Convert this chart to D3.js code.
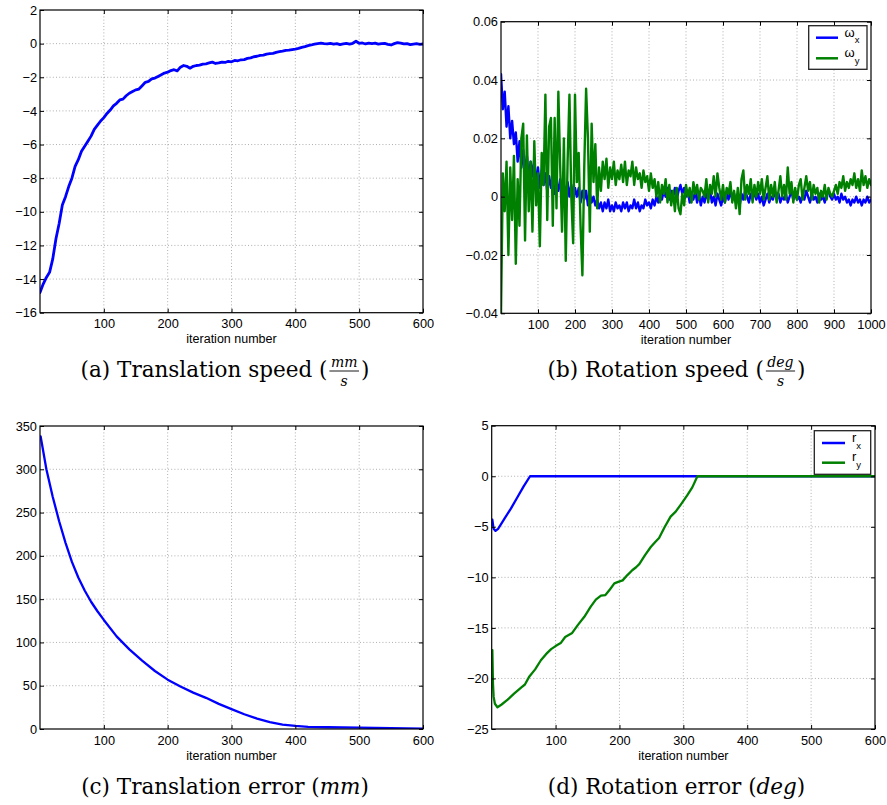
<!DOCTYPE html>
<html><head><meta charset="utf-8">
<script src="https://cdn.jsdelivr.net/npm/d3@7"></script>
<style>body{margin:0;background:#fff}</style>
</head><body>
<svg id="fig" width="887" height="805" xmlns="http://www.w3.org/2000/svg"></svg>
<script>
// ---------------- DATA ----------------
// (a) translation speed, every 5 iterations
const iterA = d3.range(0, 601, 5);
const speedA = [
 -14.8,-14.3,-13.9,-13.6,-12.8,-11.6,-10.7,-9.6,-9.1,-8.5,
 -8.0,-7.3,-6.9,-6.4,-6.1,-5.8,-5.5,-5.1,-4.85,-4.6,
 -4.4,-4.15,-3.95,-3.7,-3.55,-3.35,-3.3,-3.1,-2.95,-2.85,
 -2.75,-2.7,-2.5,-2.3,-2.25,-2.1,-2.05,-1.95,-1.85,-1.75,
 -1.7,-1.6,-1.55,-1.62,-1.4,-1.3,-1.35,-1.46,-1.35,-1.3,
 -1.28,-1.22,-1.2,-1.15,-1.1,-1.18,-1.15,-1.1,-1.12,-1.05,
 -1.08,-1.0,-1.02,-0.96,-0.95,-0.88,-0.85,-0.78,-0.75,-0.7,
 -0.68,-0.62,-0.6,-0.58,-0.52,-0.48,-0.45,-0.4,-0.38,-0.35,
 -0.32,-0.28,-0.22,-0.18,-0.12,-0.08,-0.03,0.0,0.03,0.0,
 -0.02,0.02,-0.03,0.0,-0.06,-0.02,0.02,-0.03,0.02,0.14,
 0.02,0.04,-0.02,0.03,0.0,0.03,-0.03,0.0,0.02,-0.04,
 -0.08,0.0,0.06,0.03,-0.02,0.0,-0.06,-0.03,0.0,-0.04,-0.02
];
// (b) rotation speed, every 5 iterations
const iterB = d3.range(0, 1001, 5);
const omegaX = [
 0.042,0.030,0.036,0.024,0.031,0.020,0.026,0.018,0.022,0.012,
 0.019,0.010,0.016,0.008,0.014,0.006,0.012,0.007,0.013,0.004,
 0.010,0.003,0.009,0.004,0.008,0.002,0.007,0.003,0.006,0.001,
 0.005,0.002,0.006,-0.001,0.004,0.001,0.005,0.000,0.004,-0.001,
 0.003,0.000,0.003,-0.002,0.002,-0.001,0.002,-0.003,0.001,-0.002,
 0.000,-0.003,-0.001,-0.004,-0.002,-0.005,-0.002,-0.004,-0.001,-0.005,
 -0.003,-0.005,-0.002,-0.004,-0.003,-0.005,-0.002,-0.004,-0.002,-0.005,
 -0.003,-0.004,-0.001,-0.004,-0.002,-0.005,-0.003,-0.004,-0.001,-0.003,
 -0.002,-0.004,-0.001,-0.003,0.000,-0.002,0.001,-0.001,0.002,0.000,
 0.003,-0.001,0.002,0.000,0.003,-0.001,0.002,0.004,0.001,0.003,
 0.000,0.002,-0.002,0.001,-0.001,0.002,-0.002,0.001,-0.003,0.000,
 -0.002,0.001,-0.001,0.002,-0.002,0.000,-0.003,0.001,-0.001,-0.003,
 0.000,-0.002,0.001,-0.001,0.002,-0.001,0.001,-0.002,0.000,-0.003,
 0.001,-0.001,0.002,0.000,-0.002,0.001,-0.001,0.002,-0.001,0.001,
 -0.002,0.000,-0.003,-0.001,0.001,-0.002,0.000,-0.001,0.002,-0.001,
 0.001,-0.002,0.000,-0.001,0.001,-0.002,0.000,0.002,-0.001,0.001,
 -0.001,0.000,-0.002,0.001,-0.001,0.002,0.000,-0.002,0.001,-0.001,
 0.000,-0.002,0.001,-0.001,0.000,-0.002,0.001,0.002,0.000,-0.001,
 0.001,-0.001,0.000,-0.002,0.001,-0.001,0.000,-0.002,-0.001,-0.003,
 -0.001,-0.002,0.000,-0.002,-0.001,-0.003,-0.001,-0.002,0.000,-0.002,
 -0.001
];
const omegaY = [
 -0.040,0.008,-0.005,0.012,-0.020,0.010,-0.008,0.014,-0.023,0.006,
 -0.010,0.020,0.025,-0.015,0.021,-0.005,0.012,-0.012,0.019,-0.003,
 0.008,-0.017,0.015,0.004,0.035,-0.008,0.024,0.027,-0.010,0.027,
 -0.004,0.036,0.010,-0.012,0.020,-0.022,0.012,0.035,0.000,-0.016,
 0.035,0.005,0.015,-0.010,-0.027,0.010,0.037,0.020,-0.012,0.025,
 0.005,0.018,-0.004,0.010,0.002,0.012,0.006,0.013,0.003,0.010,
 0.006,0.012,0.004,0.009,0.006,0.011,0.005,0.012,0.004,0.009,
 0.007,0.012,0.004,0.010,0.006,0.008,0.003,0.009,0.005,0.007,
 0.002,0.008,0.003,0.006,0.000,0.005,-0.002,0.004,0.001,0.006,
 -0.002,0.004,-0.003,0.002,-0.005,0.003,-0.004,-0.006,0.001,-0.003,
 0.004,0.000,0.003,-0.002,0.005,0.001,0.004,-0.001,0.003,0.002,
 0.000,0.006,-0.002,0.004,0.001,0.007,0.000,0.008,0.003,-0.001,
 0.004,-0.002,0.003,0.001,0.005,-0.002,0.002,-0.004,0.003,-0.006,
 0.006,0.009,-0.001,0.004,0.001,0.006,-0.002,0.004,0.000,0.005,
 0.001,0.006,-0.001,0.003,0.007,-0.001,0.004,0.000,0.005,-0.002,
 0.002,0.007,0.000,0.004,-0.001,0.010,0.001,0.005,-0.002,0.003,
 -0.001,0.004,0.006,-0.001,0.003,0.007,0.002,0.005,-0.001,0.004,
 0.001,0.003,-0.002,0.002,0.000,0.004,-0.001,0.003,0.001,0.000,
 0.002,0.004,0.001,0.005,0.003,0.007,0.002,0.005,0.003,0.006,
 0.004,0.008,0.003,0.006,0.002,0.009,0.004,0.007,0.003,0.006,
 0.004
];
// (c) translation error
const iterC = [1,10,20,30,40,50,60,70,80,90,100,120,140,160,180,200,220,240,260,280,300,320,340,360,380,400,420,450,500,550,600];
const errC  = [338,300,268,240,215,193,175,160,147,136,126,107,92,79,67,57,49,42,36,29,23,17,12,8,5,3.5,2.5,2,1.5,1,0.5];
// (d) rotation error
const iterRx = [1,3,6,10,20,30,40,50,60,600];
const rX     = [-4.3,-5.2,-5.4,-5.2,-4.2,-3.2,-2.1,-1.0,0,0];
const iterRy = [1,2,3,5,9,15,25,35,46,52,59,68,77,85,93,100,108,115,126,135,145,155,163,171,178,185,192,198,205,212,220,226,231,240,249,256,262,271,280,288,296,306,314,322,600];
const rY     = [-17.2,-20.5,-21.8,-22.5,-22.85,-22.6,-22.1,-21.5,-20.9,-20.6,-19.8,-19.1,-18.2,-17.6,-17.1,-16.8,-16.5,-15.9,-15.5,-14.7,-13.9,-12.9,-12.2,-11.8,-11.75,-11.2,-10.6,-10.45,-10.3,-9.8,-9.3,-9.0,-8.7,-7.8,-7.0,-6.5,-6.1,-5.0,-4.0,-3.5,-2.8,-1.9,-1.1,0,0];

// ticks
const xTicks600  = [100,200,300,400,500,600];
const xTicks1000 = [100,200,300,400,500,600,700,800,900,1000];
const yTicksA = [-16,-14,-12,-10,-8,-6,-4,-2,0,2];
const yLabelsA = ["\u221216","\u221214","\u221212","\u221210","\u22128","\u22126","\u22124","\u22122","0","2"];
const yTicksB = [-0.04,-0.02,0,0.02,0.04,0.06];
const yLabelsB = ["\u22120.04","\u22120.02","0","0.02","0.04","0.06"];
const yTicksC = [0,50,100,150,200,250,300,350];
const yLabelsC = ["0","50","100","150","200","250","300","350"];
const yTicksD = [-25,-20,-15,-10,-5,0,5];
const yLabelsD = ["\u221225","\u221220","\u221215","\u221210","\u22125","0","5"];

const xLabel = "iteration number";
const BLUE = "#0000ff", GREEN = "#008000";

// ---------------- DRAW ----------------
const svg = d3.select("#fig");
const SANS = "'Liberation Sans', Arial, Helvetica, sans-serif";
const SERIF = "'DejaVu Serif', serif";
const TICK_FS = 12.8, LABEL_FS = 12.5;
let clipId = 0;

function panel(cfg) {
  const x = d3.scaleLinear().domain(cfg.xDom).range([cfg.l, cfg.r]);
  const y = d3.scaleLinear().domain(cfg.yDom).range([cfg.b, cfg.t]);
  const g = svg.append("g");
  const gridStyle = s => s.attr("stroke", "#9a9a9a").attr("stroke-width", 0.8).attr("stroke-dasharray", "1,2.2");
  g.append("g").selectAll("line").data(cfg.xTicks.filter(v => v > cfg.xDom[0] && v < cfg.xDom[1])).join("line")
    .attr("x1", d => x(d)).attr("x2", d => x(d)).attr("y1", cfg.t).attr("y2", cfg.b).call(gridStyle);
  g.append("g").selectAll("line").data(cfg.yTicks.filter(v => v > cfg.yDom[0] && v < cfg.yDom[1])).join("line")
    .attr("y1", d => y(d)).attr("y2", d => y(d)).attr("x1", cfg.l).attr("x2", cfg.r).call(gridStyle);

  const cid = "clip" + (clipId++);
  svg.append("defs").append("clipPath").attr("id", cid).append("rect")
    .attr("x", cfg.l).attr("y", cfg.t).attr("width", cfg.r - cfg.l).attr("height", cfg.b - cfg.t);
  const lines = g.append("g").attr("clip-path", `url(#${cid})`);
  cfg.series.forEach(s => {
    const pts = s.xs.map((xv, i) => [xv, s.ys[i]]).filter(p => p[1] !== undefined);
    lines.append("path").datum(pts)
      .attr("fill", "none").attr("stroke", s.color).attr("stroke-width", s.width)
      .attr("stroke-linejoin", "round").attr("stroke-linecap", "round")
      .attr("d", d3.line().x(p => x(p[0])).y(p => y(p[1])));
  });

  // axes (ticks inside)
  const fmtY = v => cfg.yLabels[cfg.yTicks.indexOf(v)];
  const ax = [
    g.append("g").attr("transform", `translate(0,${cfg.b})`).call(d3.axisBottom(x).tickValues(cfg.xTicks).tickSize(-4).tickPadding(15.8 - 0.71 * TICK_FS).tickFormat(d3.format("d"))),
    g.append("g").attr("transform", `translate(0,${cfg.t})`).call(d3.axisTop(x).tickValues(cfg.xTicks).tickSize(-4).tickFormat("")),
    g.append("g").attr("transform", `translate(${cfg.l},0)`).call(d3.axisLeft(y).tickValues(cfg.yTicks).tickSize(-4).tickPadding(3).tickFormat(fmtY)),
    g.append("g").attr("transform", `translate(${cfg.r},0)`).call(d3.axisRight(y).tickValues(cfg.yTicks).tickSize(-4).tickFormat(""))
  ];
  ax.forEach(a => {
    a.select(".domain").remove();
    a.attr("font-family", SANS).attr("font-size", TICK_FS);
    a.selectAll("line").attr("stroke", "#000").attr("stroke-width", 1);
    a.selectAll("text").attr("fill", "#000");
  });
  g.append("rect").attr("x", cfg.l).attr("y", cfg.t).attr("width", cfg.r - cfg.l).attr("height", cfg.b - cfg.t)
    .attr("fill", "none").attr("stroke", "#000").attr("stroke-width", 1.2);

  g.append("text").attr("x", (cfg.l + cfg.r) / 2).attr("y", cfg.b + 30.5)
    .attr("text-anchor", "middle").attr("font-family", SANS).attr("font-size", LABEL_FS).text(xLabel);

  if (cfg.legend) {
    const L = cfg.legend;
    const lg = g.append("g");
    lg.append("rect").attr("x", L.x0).attr("y", L.y0).attr("width", L.x1 - L.x0).attr("height", L.y1 - L.y0)
      .attr("fill", "#fff").attr("stroke", "#222").attr("stroke-width", 1.3);
    L.items.forEach(it => {
      lg.append("line").attr("x1", L.lx0).attr("x2", L.lx1).attr("y1", it.y).attr("y2", it.y)
        .attr("stroke", it.color).attr("stroke-width", 2.5);
      const t = lg.append("text").attr("x", L.tx).attr("y", it.y + L.bo).attr("font-family", SANS).attr("font-size", 13);
      t.append("tspan").text(it.sym);
      t.append("tspan").attr("dy", L.so).attr("font-size", 9.5).text(it.sub);
    });
  }
}

panel({ l: 40, r: 423, t: 10, b: 312.7, xDom: [0, 600], yDom: [-16, 2],
  xTicks: xTicks600, yTicks: yTicksA, yLabels: yLabelsA,
  series: [{ xs: iterA, ys: speedA, color: BLUE, width: 2.8 }] });

panel({ l: 501, r: 871, t: 21.7, b: 313.3, xDom: [0, 1000], yDom: [-0.04, 0.06],
  xTicks: xTicks1000, yTicks: yTicksB, yLabels: yLabelsB,
  series: [{ xs: iterB, ys: omegaX, color: BLUE, width: 2.4 }, { xs: iterB, ys: omegaY, color: GREEN, width: 2.4 }],
  legend: { x0: 808.7, x1: 867, y0: 25.7, y1: 69.3, lx0: 816, lx1: 838, tx: 844.5, bo: -1, so: 6.5,
    items: [{ y: 37.7, color: BLUE, sym: "\u03c9", sub: "x" }, { y: 58.3, color: GREEN, sym: "\u03c9", sub: "y" }] } });

panel({ l: 40, r: 423, t: 426, b: 729, xDom: [0, 600], yDom: [0, 350],
  xTicks: xTicks600, yTicks: yTicksC, yLabels: yLabelsC,
  series: [{ xs: iterC, ys: errC, color: BLUE, width: 2.3 }] });

panel({ l: 491.7, r: 875, t: 425.7, b: 729, xDom: [0, 600], yDom: [-25, 5],
  xTicks: xTicks600, yTicks: yTicksD, yLabels: yLabelsD,
  series: [{ xs: iterRx, ys: rX, color: BLUE, width: 2.3 }, { xs: iterRy, ys: rY, color: GREEN, width: 2.3 }],
  legend: { x0: 814.3, x1: 870.7, y0: 430.7, y1: 474.3, lx0: 822, lx1: 845, tx: 852, bo: -1.5, so: 7,
    items: [{ y: 443, color: BLUE, sym: "r", sub: "x" }, { y: 462.7, color: GREEN, sym: "r", sub: "y" }] } });

// ---------------- CAPTIONS ----------------
function caption(cx, base, prefix, num, den, italic) {
  const g = svg.append("g");
  const FS = 21.5;
  const t1 = g.append("text").attr("x", 0).attr("y", base).attr("font-family", SERIF).attr("font-size", FS).text(prefix);
  let xpos = t1.node().getComputedTextLength();
  if (den) {
    const n = g.append("text").attr("y", base - 10).attr("font-family", SERIF).attr("font-style", "italic").attr("font-size", 14).text(num);
    const d = g.append("text").attr("y", base + 8.5).attr("font-family", SERIF).attr("font-style", "italic").attr("font-size", 14).text(den);
    const wn = n.node().getComputedTextLength(), wd = d.node().getComputedTextLength();
    const w = Math.max(wn, wd) + 3;
    const x0 = xpos + 2;
    n.attr("x", x0 + (w - wn) / 2);
    d.attr("x", x0 + (w - wd) / 2);
    g.append("line").attr("x1", x0).attr("x2", x0 + w).attr("y1", base - 6).attr("y2", base - 6).attr("stroke", "#000").attr("stroke-width", 0.9);
    xpos = x0 + w + 2;
  } else {
    const it = g.append("text").attr("x", xpos).attr("y", base).attr("font-family", SERIF).attr("font-style", "italic").attr("font-size", FS).text(italic);
    xpos += it.node().getComputedTextLength();
  }
  const t3 = g.append("text").attr("x", xpos).attr("y", base).attr("font-family", SERIF).attr("font-size", FS).text(")");
  const total = xpos + t3.node().getComputedTextLength();
  g.attr("transform", `translate(${cx - total / 2},0)`);
}
caption(225, 377, "(a) Translation speed (", "mm", "s");
caption(676.5, 377, "(b) Rotation speed (", "deg", "s");
caption(225, 794, "(c) Translation error (", null, null, "mm");
caption(676.5, 794, "(d) Rotation error (", null, null, "deg");
</script>
</body></html>
